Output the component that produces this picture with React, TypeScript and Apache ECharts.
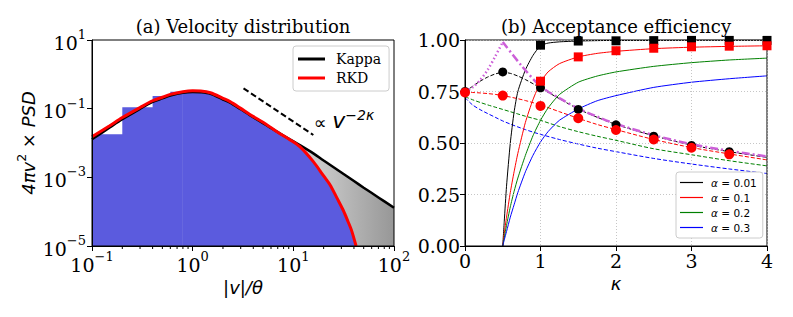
import React, { useEffect, useRef } from 'react';
import * as echarts from 'echarts';

const SERIF = '"DejaVu Serif", serif';
const SANS = '"DejaVu Sans", sans-serif';

// ---------- (a) Velocity distribution ----------
const kappaV = [0.1, 0.15, 0.2, 0.3, 0.4, 0.5, 0.6, 0.8, 1.0, 1.2, 1.5, 2.0, 2.35, 3.0, 3.7, 5.0, 5.85, 7.0, 9.24, 11.6, 15.8, 20, 30, 40, 50, 70, 100];
const kappaPSD = [0.0128, 0.0282, 0.049, 0.099, 0.157, 0.2, 0.24, 0.29, 0.305, 0.3, 0.27, 0.185, 0.149, 0.096, 0.065, 0.038, 0.0286, 0.0208, 0.0128, 0.0087, 0.005, 0.0031, 0.00139, 0.00078, 0.0005, 0.00026, 0.00013];
const rkdV = [0.1, 0.15, 0.2, 0.3, 0.4, 0.5, 0.6, 0.8, 1.0, 1.2, 1.5, 2.0, 2.35, 3.0, 3.7, 5.0, 5.85, 7.0, 9.24, 11.6, 15.8, 20, 23.2, 27, 31.3, 35, 37.8, 42];
const rkdPSD = [0.0153, 0.032, 0.055, 0.108, 0.17, 0.215, 0.26, 0.31, 0.33, 0.325, 0.29, 0.2, 0.16, 0.102, 0.068, 0.04, 0.0295, 0.0205, 0.0125, 0.0078, 0.00286, 0.0011, 0.0006, 0.000256, 0.00011, 0.000051, 0.000029, 0.00001];
// first histogram bins (first bin [0, 0.2] shown from the axis minimum)
const histEdges = [0.1, 0.2, 0.4, 0.6, 0.8];
const histHeights = [0.0179, 0.11, 0.234, 0.31];
const guideV = [3.2, 15.8];
const guidePSD = [0.39, 0.0171];
const annotV = [31.8];
const annotPSD = [0.047];
const yTickExps = [-5, -3, -1, 1];
const xMinorTicks = [0.2, 0.3, 0.4, 0.5, 0.6, 0.7, 0.8, 0.9, 2, 3, 4, 5, 6, 7, 8, 9, 20, 30, 40, 50, 60, 70, 80, 90];

// ---------- (b) Acceptance efficiency ----------
const solidK = [0.5, 0.52, 0.55, 0.6, 0.65, 0.7, 0.8, 0.9, 1.0, 1.1, 1.25, 1.5, 1.75, 2.0, 2.5, 3.0, 3.5, 4.0];
const solid001 = [0, 0.12, 0.29, 0.5, 0.65, 0.75, 0.855, 0.925, 0.972, 0.985, 0.991, 0.995, 0.997, 0.998, 0.998, 0.999, 0.999, 0.999];
const solid01 = [0, 0.06, 0.14, 0.26, 0.36, 0.45, 0.6, 0.71, 0.795, 0.845, 0.885, 0.918, 0.935, 0.945, 0.958, 0.965, 0.969, 0.972];
const solid02 = [0, 0.04, 0.1, 0.19, 0.265, 0.33, 0.44, 0.535, 0.61, 0.67, 0.735, 0.795, 0.825, 0.845, 0.872, 0.89, 0.903, 0.912];
const solid03 = [0, 0.03, 0.07, 0.14, 0.2, 0.26, 0.36, 0.44, 0.505, 0.555, 0.61, 0.665, 0.705, 0.73, 0.77, 0.795, 0.812, 0.826];
const dashK = [0, 0.1, 0.2, 0.3, 0.4, 0.5, 0.6, 0.7, 0.8, 0.9, 1.0, 1.25, 1.5, 1.75, 2.0, 2.5, 3.0, 3.5, 4.0];
const dash001 = [0.75, 0.775, 0.8, 0.82, 0.835, 0.843, 0.838, 0.825, 0.808, 0.788, 0.767, 0.715, 0.665, 0.625, 0.59, 0.535, 0.49, 0.458, 0.43];
const dash01 = [0.745, 0.745, 0.743, 0.74, 0.736, 0.73, 0.723, 0.715, 0.706, 0.696, 0.685, 0.652, 0.62, 0.59, 0.565, 0.517, 0.478, 0.447, 0.418];
const dash02 = [0.725, 0.71, 0.697, 0.685, 0.674, 0.663, 0.652, 0.641, 0.63, 0.62, 0.61, 0.58, 0.555, 0.533, 0.513, 0.472, 0.443, 0.414, 0.389];
const dash03 = [0.72, 0.685, 0.662, 0.643, 0.625, 0.607, 0.592, 0.578, 0.565, 0.553, 0.542, 0.517, 0.495, 0.475, 0.458, 0.425, 0.398, 0.374, 0.352];
const magDotK = [0, 0.1, 0.2, 0.3, 0.4, 0.5];
const magDot = [0.75, 0.77, 0.805, 0.855, 0.92, 0.99];
const magK = [0.5, 0.75, 1.0, 1.25, 1.5, 1.75, 2.0, 2.5, 3.0, 3.5, 4.0];
const magDash = [0.99, 0.875, 0.775, 0.718, 0.668, 0.628, 0.593, 0.538, 0.494, 0.462, 0.435];
const sqK = [1, 1.5, 2, 2.5, 3, 3.5, 4];
const sqBlack = [0.975, 0.995, 0.996, 0.997, 0.998, 0.998, 0.998];
const sqRed = [0.8, 0.918, 0.948, 0.96, 0.967, 0.97, 0.972];
const cK = [0, 0.5, 1, 1.5, 2, 2.5, 3, 3.5];
const cBlack = [0.75, 0.845, 0.768, 0.663, 0.588, 0.533, 0.488, 0.458];
const cRed = [0.745, 0.73, 0.68, 0.62, 0.563, 0.517, 0.477, 0.445];
const alphaNames = ['α = 0.01', 'α = 0.1', 'α = 0.2', 'α = 0.3'];
const alphaColors = ['#000000', '#ff0000', '#008000', '#0000ff'];

const zip = (xs: number[], ys: number[]) => xs.map((x, i) => [x, ys[i]]);
const sup = (e: number) => `{b|10}{s|${e < 0 ? '\u2212' + -e : e}}`;
const powRich = {
  b: { fontFamily: SERIF, fontSize: 19, color: '#000', lineHeight: 24, verticalAlign: 'bottom' },
  s: { fontFamily: SERIF, fontSize: 13, color: '#000', lineHeight: 14, verticalAlign: 'top' },
};

export default function App() {
  const ref = useRef<HTMLDivElement>(null);
  useEffect(() => {
    if (!ref.current) return;
    const chart = echarts.init(ref.current, undefined, { renderer: 'svg' });
    const grayGrad = new echarts.graphic.LinearGradient(0, 0, 1, 0, [
      { offset: 0, color: '#d4d4d4' },
      { offset: 0.45, color: '#c8c8c8' },
      { offset: 1, color: '#979797' },
    ]);
    const blue = '#5b5bde';
    const tailIdx = rkdV.findIndex((v) => v >= 0.8);
    const grayIdx = kappaV.findIndex((v) => v >= 5);
    const solids = [solid001, solid01, solid02, solid03];
    const dashes = [dash001, dash01, dash02, dash03];
    const axisLineStyle = { show: true, onZero: false, lineStyle: { color: '#000', width: 1 } };
    const marker = (name: string, xs: number[], ys: number[], symbol: string, size: number, color: string) => ({
      type: 'scatter', name, xAxisIndex: 1, yAxisIndex: 2, data: zip(xs, ys), symbol, symbolSize: size,
      itemStyle: { color, opacity: 1 }, silent: true, z: 9,
    });

    const option: any = {
      animation: false,
      backgroundColor: '#fff',
      title: [
        { text: '(a) Velocity distribution', left: 243, top: 17, textAlign: 'center', padding: 0,
          textStyle: { fontFamily: SERIF, fontSize: 18, fontWeight: 'normal', color: '#000' } },
        { text: '(b) Acceptance efficiency', left: 616, top: 17, textAlign: 'center', padding: 0,
          textStyle: { fontFamily: SERIF, fontSize: 18, fontWeight: 'normal', color: '#000' } },
      ],
      grid: [
        { left: 92, top: 40, width: 302, height: 206, show: true, borderColor: '#000', borderWidth: 1, backgroundColor: 'transparent', z: 8 },
        { left: 465, top: 40, width: 302, height: 206, show: true, borderColor: '#000', borderWidth: 1, backgroundColor: 'transparent', z: 8 },
      ],
      legend: [
        {
          data: ['Kappa', 'RKD'], orient: 'vertical', left: 293, top: 46, padding: [6, 8, 6, 5],
          icon: 'rect', itemWidth: 27, itemHeight: 3, itemGap: 5,
          backgroundColor: '#fff', borderColor: '#ccc', borderWidth: 1, borderRadius: 3,
          textStyle: { fontFamily: SERIF, fontSize: 14, color: '#000', lineHeight: 14, padding: [0, 0, 0, 6] },
          z: 20,
        },
        {
          data: alphaNames, orient: 'vertical', left: 676, top: 172, padding: [5, 6, 5, 4],
          icon: 'rect', itemWidth: 23, itemHeight: 1.2, itemGap: 4,
          backgroundColor: '#fff', borderColor: '#ccc', borderWidth: 1, borderRadius: 3,
          formatter: (n: string) => `{i|α}{t|${n.slice(1)}}`,
          textStyle: {
            fontFamily: SANS, fontSize: 10.5, color: '#000', padding: [0, 0, 0, 3],
            rich: {
              i: { fontFamily: SANS, fontSize: 10.5, fontStyle: 'italic', color: '#000', lineHeight: 12 },
              t: { fontFamily: SANS, fontSize: 10.5, color: '#000', lineHeight: 12 },
            },
          },
          z: 20,
        },
      ],
      xAxis: [
        {
          type: 'log', gridIndex: 0, min: 0.1, max: 100, logBase: 10, z: 9,
          axisLine: axisLineStyle,
          axisTick: { show: true, inside: false, length: 5, lineStyle: { color: '#000' } },
          axisLabel: { margin: 4, formatter: (v: number) => sup(Math.round(Math.log10(v))), rich: powRich },
          splitLine: { show: false },
          name: '{v||v|/θ}', nameLocation: 'middle', nameGap: 27,
          nameTextStyle: { rich: { v: { fontFamily: SANS, fontSize: 18, fontStyle: 'italic', color: '#000' } } },
        },
        {
          type: 'value', gridIndex: 1, min: 0, max: 4, interval: 1, z: 9,
          axisLine: axisLineStyle,
          axisTick: { show: true, inside: false, length: 5, lineStyle: { color: '#000' } },
          axisLabel: { margin: 5, fontFamily: SERIF, fontSize: 19, color: '#000' },
          splitLine: { show: true, lineStyle: { color: '#b8b8b8', type: [1, 2], width: 0.8 } },
          name: 'κ', nameLocation: 'middle', nameGap: 27,
          nameTextStyle: { fontFamily: SANS, fontSize: 18, fontStyle: 'italic', color: '#000' },
        },
      ],
      yAxis: [
        {
          type: 'log', gridIndex: 0, min: 1e-5, max: 10, logBase: 10,
          axisLine: { show: false, onZero: false }, axisTick: { show: false }, axisLabel: { show: false }, splitLine: { show: false },
        },
        {
          type: 'value', gridIndex: 0, min: -5, max: 1, interval: 2, position: 'left', z: 9,
          axisLine: axisLineStyle,
          axisTick: { show: true, inside: false, length: 5, lineStyle: { color: '#000' } },
          axisLabel: { margin: 6, formatter: (v: number) => (yTickExps.includes(v) ? sup(v) : ''), rich: powRich },
          splitLine: { show: false },
          name: '{a|4πv}{s|2}{a| × PSD}', nameLocation: 'middle', nameGap: 55,
          nameTextStyle: {
            rich: {
              a: { fontFamily: SANS, fontSize: 18, fontStyle: 'italic', color: '#000', lineHeight: 22, verticalAlign: 'bottom' },
              s: { fontFamily: SANS, fontSize: 12.5, color: '#000', lineHeight: 14, verticalAlign: 'top' },
            },
          },
        },
        {
          type: 'value', gridIndex: 1, min: 0, max: 1, interval: 0.25, z: 9,
          axisLine: axisLineStyle,
          axisTick: { show: true, inside: false, length: 5, lineStyle: { color: '#000' } },
          axisLabel: { margin: 5, fontFamily: SERIF, fontSize: 19, color: '#000', formatter: (v: number) => v.toFixed(2) },
          splitLine: { show: true, lineStyle: { color: '#b8b8b8', type: [1, 2], width: 0.8 } },
        },
      ],
      series: [
        // panel (a)
        { type: 'line', name: 'kappaHist', xAxisIndex: 0, yAxisIndex: 0,
          data: zip(kappaV.slice(grayIdx), kappaPSD.slice(grayIdx)), symbol: 'none', smooth: 0.3,
          lineStyle: { width: 0 }, areaStyle: { origin: 'start', color: grayGrad, opacity: 1 }, silent: true },
        { type: 'line', name: 'rkdHistLow', xAxisIndex: 0, yAxisIndex: 0, step: 'end',
          data: zip(histEdges, [...histHeights, histHeights[histHeights.length - 1]]), symbol: 'none',
          lineStyle: { width: 0 }, areaStyle: { origin: 'start', color: blue, opacity: 1 }, silent: true },
        { type: 'line', name: 'rkdHist', xAxisIndex: 0, yAxisIndex: 0,
          data: zip(rkdV.slice(tailIdx), rkdPSD.slice(tailIdx)), symbol: 'none', smooth: 0.3,
          lineStyle: { width: 0 }, areaStyle: { origin: 'start', color: blue, opacity: 1 }, silent: true },
        { type: 'line', name: 'guide', xAxisIndex: 0, yAxisIndex: 0, data: zip(guideV, guidePSD), symbol: 'none',
          lineStyle: { color: '#000', width: 2, type: [6, 3] }, silent: true },
        { type: 'line', name: 'Kappa', xAxisIndex: 0, yAxisIndex: 0, data: zip(kappaV, kappaPSD), symbol: 'none', showSymbol: false,
          smooth: 0.3, lineStyle: { color: '#000', width: 2.5 }, itemStyle: { color: '#000' } },
        { type: 'line', name: 'RKD', xAxisIndex: 0, yAxisIndex: 0, data: zip(rkdV, rkdPSD), symbol: 'none', showSymbol: false,
          smooth: 0.3, lineStyle: { color: '#ff0000', width: 3 }, itemStyle: { color: '#ff0000' } },
        { type: 'scatter', name: 'minorTicks', xAxisIndex: 0, yAxisIndex: 0, data: xMinorTicks.map((v) => [v, 1e-5]),
          symbol: 'rect', symbolSize: [1, 3], symbolOffset: [0, 1.5], itemStyle: { color: '#000', opacity: 1 }, clip: false, silent: true, z: 10 },
        { type: 'scatter', name: 'annot', xAxisIndex: 0, yAxisIndex: 0, data: zip(annotV, annotPSD),
          symbol: 'circle', symbolSize: 0, itemStyle: { color: 'transparent' }, silent: true, z: 10,
          label: {
            show: true, position: 'inside', color: '#000', fontFamily: SANS, fontSize: 20, opacity: 1,
            formatter: '{p|∝ }{v|v}{s|\u22122κ}',
            rich: {
              p: { fontFamily: SANS, fontSize: 18, color: '#000', lineHeight: 24, verticalAlign: 'bottom' },
              v: { fontFamily: SANS, fontSize: 22, fontStyle: 'italic', color: '#000', lineHeight: 24, verticalAlign: 'bottom' },
              s: { fontFamily: SANS, fontSize: 14, fontStyle: 'italic', color: '#000', lineHeight: 14, verticalAlign: 'top' },
            },
          } },
        // panel (b)
        ...dashes.map((d, i) => ({
          type: 'line', name: 'dash' + i, xAxisIndex: 1, yAxisIndex: 2, data: zip(dashK, d), symbol: 'none', smooth: 0.3,
          lineStyle: { color: alphaColors[i], width: 1, type: [4, 2] }, silent: true,
        })),
        ...solids.map((d, i) => ({
          type: 'line', name: alphaNames[i], xAxisIndex: 1, yAxisIndex: 2, data: zip(solidK, d), symbol: 'none', showSymbol: false,
          smooth: 0.2, lineStyle: { color: alphaColors[i], width: 1 }, itemStyle: { color: alphaColors[i] },
        })),
        { type: 'line', name: 'magDot', xAxisIndex: 1, yAxisIndex: 2, data: zip(magDotK, magDot), symbol: 'none', smooth: 0.3,
          lineStyle: { color: '#cc5fd8', width: 2.5, type: [1.5, 2.5] }, silent: true },
        { type: 'line', name: 'magDash', xAxisIndex: 1, yAxisIndex: 2, data: zip(magK, magDash), symbol: 'none', smooth: 0.3,
          lineStyle: { color: '#cc5fd8', width: 2.5, type: [8, 3, 2, 3] }, silent: true },
        marker('cBlack', cK, cBlack, 'circle', 9, '#000'),
        marker('cRed', cK, cRed, 'circle', 10, '#ff0000'),
        marker('sqBlack', sqK, sqBlack, 'rect', 9, '#000'),
        marker('sqRed', sqK, sqRed, 'rect', 9, '#ff0000'),
      ],
    };
    chart.setOption(option);
    return () => chart.dispose();
  }, []);
  return <div ref={ref} style={{ position: 'absolute', left: 0, top: 0, width: 793, height: 317 }} />;
}
